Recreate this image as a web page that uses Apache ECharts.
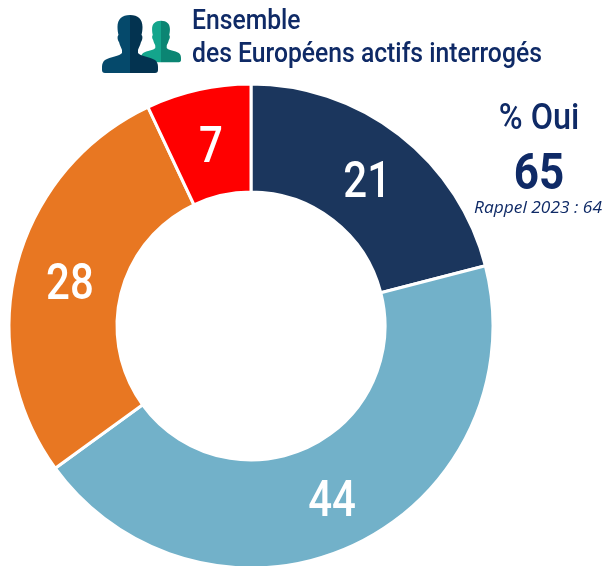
<!DOCTYPE html>
<html>
<head>
<meta charset="utf-8">
<style>
  html, body { margin: 0; padding: 0; background: #fff; }
  #chart { width: 606px; height: 566px; }
</style>
<script src="https://cdn.jsdelivr.net/npm/echarts@6/dist/echarts.min.js"></script>
</head>
<body>
<div id="chart"></div>
<script>
var categories = ['A', 'B', 'C', 'D']
var values = [21, 44, 28, 7]
var colors = ['#1b365d', '#72b1c9', '#e87722', '#ff0000']
var titleLines = ['Ensemble', 'des Européens actifs interrogés']
var ouiLabel = '% Oui'
var ouiValue = '65'
var rappel = 'Rappel 2023 : 64'

var din = 'Roboto, sans-serif'
var navy = '#0f2a66'
var cx = 251
var cy = 326
var rIn = 134
var rOut = 242

// silhouette: tete + epaules, moitie gauche et droite en deux tons
var halfLeft = 'M28,0 C20,0 15.5,4 15.5,12 C15.5,15 16,18 16.5,20 C15,21 15.5,25 17,27 C18,31 19.5,33 20,35 L20,38 C18,41 8,42 3,45 C1,46.5 0,49 0,52 L0,55 C0,57 1,58 3,58 L28,58 Z'
var halfRight = 'M0,0 C8,0 12.5,4 12.5,12 C12.5,15 12,18 11.5,20 C13,21 12.5,25 11,27 C10,31 8.5,33 8,35 L8,38 C10,41 20,42 25,45 C27,46.5 28,49 28,52 L28,55 C28,57 27,58 25,58 L0,58 Z'

function person (x, y, w, h, c1, c2) {
  return [
    { type: 'path', shape: { pathData: halfLeft, x: x - w, y: y, width: w, height: h }, style: { fill: c1 } },
    { type: 'path', shape: { pathData: halfRight, x: x, y: y, width: w, height: h }, style: { fill: c2 } }
  ]
}

// texte condense : pas de police etroite installee, donc scaleX
function label (text, x, y, sx, font, align) {
  return {
    type: 'text',
    x: x,
    y: y,
    scaleX: sx,
    style: { text: text, fill: navy, font: font, textAlign: align || 'left', textVerticalAlign: 'middle' }
  }
}

var chart = echarts.init(document.getElementById('chart'))
chart.setOption({
  animation: false,
  series: [
    {
      name: 'Oui',
      type: 'pie',
      center: [cx, cy],
      radius: [rIn, rOut],
      startAngle: 90,
      clockwise: true,
      label: { show: false },
      labelLine: { show: false },
      itemStyle: { borderColor: '#fff', borderWidth: 3 },
      emphasis: { disabled: true },
      data: categories.map(function (name, i) {
        return { name: name, value: values[i], itemStyle: { color: colors[i] } }
      })
    },
    {
      // valeurs sur l'anneau, angle calcule depuis les donnees
      type: 'custom',
      coordinateSystem: 'none',
      silent: true,
      z: 5,
      data: values,
      renderItem: function (params, api) {
        var total = values.reduce(function (a, b) { return a + b }, 0)
        var before = values.slice(0, params.dataIndex).reduce(function (a, b) { return a + b }, 0)
        var a = (before + values[params.dataIndex] / 2) / total * Math.PI * 2
        var r = (rIn + rOut) / 2
        return {
          type: 'text',
          x: cx + r * Math.sin(a) + 1,
          y: cy - r * Math.cos(a) + 7,
          scaleX: 0.84,
          style: {
            text: String(values[params.dataIndex]),
            fill: '#fff',
            font: '500 50px ' + din,
            textAlign: 'center',
            textVerticalAlign: 'middle'
          }
        }
      }
    },
    {
      // icone dessinee en custom car graphic ne prend pas pathData
      type: 'custom',
      coordinateSystem: 'none',
      silent: true,
      data: [0],
      renderItem: function () {
        return {
          type: 'group',
          children: person(161, 20, 20, 43, '#14a58c', '#0b8573').concat(person(130, 15, 28, 58, '#05496b', '#033350'))
        }
      }
    }
  ],
  graphic: {
    elements: [
      label(titleLines[0], 192, 22, 0.915, '500 27px ' + din),
      label(titleLines[1], 192, 55, 0.915, '500 27px ' + din),
      label(ouiLabel, 539, 120, 0.9, '500 36px ' + din, 'center'),
      label(ouiValue, 539, 176, 0.88, '700 50px ' + din, 'center'),
      label(rappel, 538, 208, 1.02, 'italic 17px "Open Sans", sans-serif', 'center')
    ]
  }
})
</script>
</body>
</html>
